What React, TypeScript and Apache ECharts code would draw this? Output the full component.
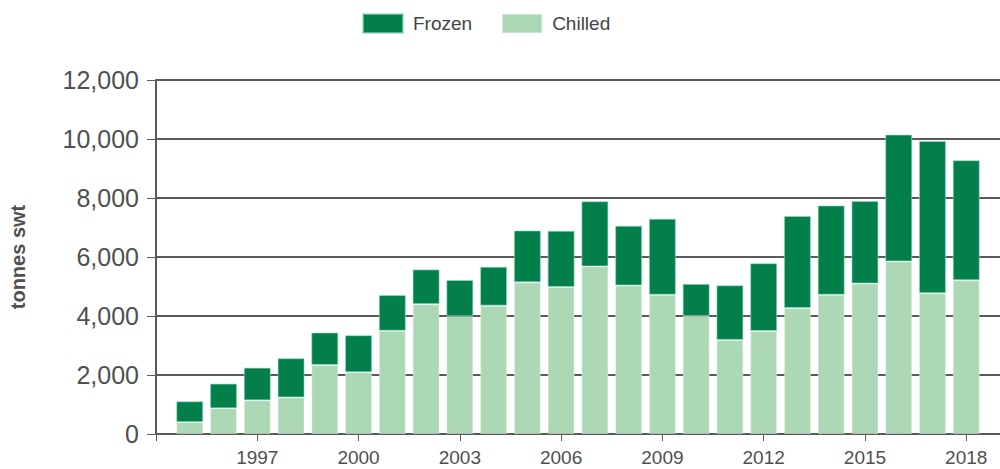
import React, { useEffect, useRef } from "react";
import * as echarts from "echarts";

const years = [
  "1994", "1995", "1996", "1997", "1998", "1999", "2000", "2001", "2002", "2003",
  "2004", "2005", "2006", "2007", "2008", "2009", "2010", "2011", "2012", "2013",
  "2014", "2015", "2016", "2017", "2018", "2019",
];
// 1995..2018
const chilled = [
  400, 870, 1140, 1240, 2340, 2090, 3500, 4400, 3990, 4350,
  5140, 4980, 5680, 5030, 4720, 4000, 3190, 3490, 4270, 4720,
  5100, 5850, 4770, 5210,
];
const frozen = [
  710, 840, 1110, 1330, 1100, 1260, 1210, 1180, 1230, 1320,
  1760, 1910, 2210, 2030, 2580, 1090, 1850, 2300, 3120, 3030,
  2800, 4300, 5160, 4070,
];
const yTicks = [0, 2000, 4000, 6000, 8000, 10000, 12000];

const FROZEN_COLOR = "#037f4c";
const CHILLED_COLOR = "#acd8b6";
const LINE_COLOR = "#5a5a5a";
const TEXT_COLOR = "#505050";

export default function App() {
  const ref = useRef<HTMLDivElement>(null);
  useEffect(() => {
    if (!ref.current) return;
    const chart = echarts.init(ref.current, undefined, { renderer: "svg" });
    const pad = (arr: number[]) => ["-", ...arr, "-"];
    chart.setOption({
      animation: false,
      textStyle: { fontFamily: "Liberation Sans, Arial, sans-serif" },
      legend: {
        data: ["Frozen", "Chilled"],
        left: 362,
        top: 13,
        padding: 0,
        itemWidth: 40,
        itemHeight: 19,
        itemGap: 29,
        icon: "rect",
        textStyle: { fontSize: 19, color: "#444", padding: [0, 0, 0, 5] },
      },
      grid: { left: 154, right: -5, top: 80, bottom: 35, containLabel: false },
      xAxis: {
        type: "category",
        data: years,
        boundaryGap: false,
        axisLine: { lineStyle: { color: LINE_COLOR, width: 2 } },
        axisTick: {
          show: true,
          length: 7,
          interval: (i: number) => i % 3 === 0,
          lineStyle: { color: LINE_COLOR, width: 1 },
        },
        axisLabel: {
          interval: (i: number) => i % 3 === 0 && i > 0,
          fontSize: 19,
          color: TEXT_COLOR,
          margin: 14,
        },
        splitLine: { show: false },
      },
      yAxis: {
        type: "value",
        min: 0,
        max: 12000,
        interval: 2000,
        name: "tonnes swt",
        nameLocation: "middle",
        nameGap: 128,
        nameTextStyle: { fontSize: 20, fontWeight: "bold", color: TEXT_COLOR },
        axisLine: { show: true, lineStyle: { color: LINE_COLOR, width: 2 } },
        axisTick: { show: true, length: 9, lineStyle: { color: LINE_COLOR, width: 1 } },
        axisLabel: {
          fontSize: 25,
          color: TEXT_COLOR,
          margin: 17,
          formatter: (v: number) => (yTicks.includes(v) ? v.toLocaleString("en-US") : ""),
        },
        splitLine: { show: true, lineStyle: { color: LINE_COLOR, width: 2 } },
      },
      series: [
        {
          name: "Chilled",
          type: "bar",
          stack: "total",
          barWidth: "80%",
          data: pad(chilled),
          itemStyle: { color: CHILLED_COLOR, borderColor: "rgba(255,255,255,0.35)", borderWidth: 1 },
        },
        {
          name: "Frozen",
          type: "bar",
          stack: "total",
          barWidth: "80%",
          data: pad(frozen),
          itemStyle: { color: FROZEN_COLOR, borderColor: "rgba(150,220,190,0.6)", borderWidth: 1 },
        },
      ],
    });
    return () => chart.dispose();
  }, []);
  return (
    <div
      ref={ref}
      style={{ position: "fixed", left: 0, top: 0, width: 1000, height: 469, background: "#fff" }}
    />
  );
}
